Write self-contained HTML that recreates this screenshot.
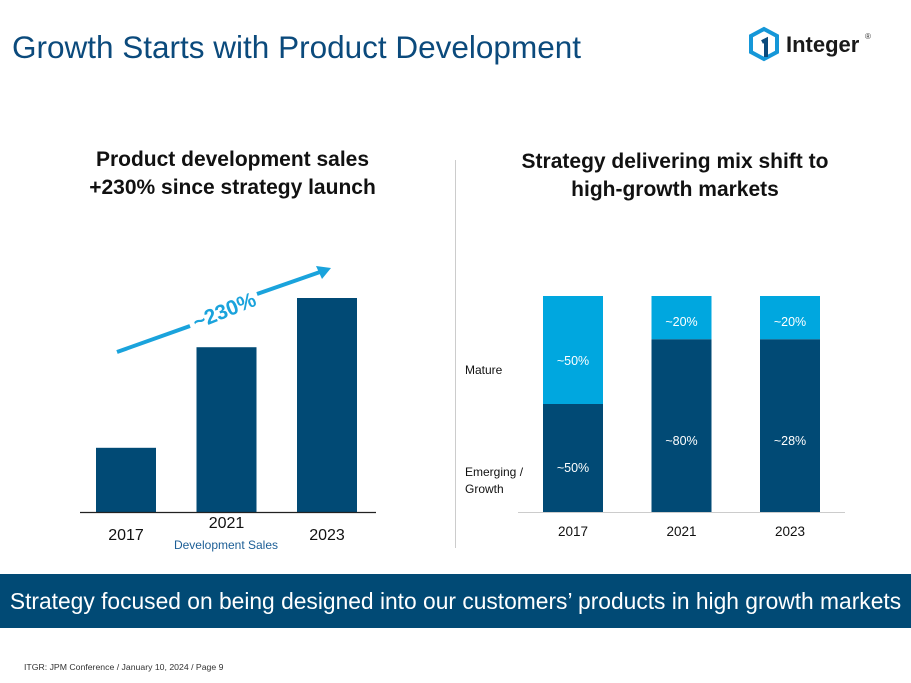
<!DOCTYPE html>
<html><head><meta charset="utf-8"><style>
body{margin:0;width:911px;height:683px;background:#fff;font-family:"Liberation Sans",sans-serif;position:relative;overflow:hidden}
.a{position:absolute}
</style></head><body>
<div class="a" style="left:12px;top:29px;font-size:31.5px;color:#0b4a7c;white-space:nowrap">Growth Starts with Product Development</div>
<div class="a" style="left:748px;top:26px;width:140px;height:38px;">
<svg width="40" height="38" viewBox="0 0 40 38" style="position:absolute;left:0;top:0"><polygon points="16,3 29,10 29,26 16,33 3,26 3,10" fill="none" stroke="#1597d8" stroke-width="4"/><path d="M14,16 L18,14 L18,31" fill="none" stroke="#0b4a7c" stroke-width="4"/></svg>
<span style="position:absolute;left:38px;top:6px;font-size:22px;font-weight:bold;color:#1a1a1a;">Integer</span><span style="position:absolute;left:117px;top:6px;font-size:8px;color:#333">®</span></div>
<div class="a" style="left:60px;top:146px;width:345px;text-align:center;font-size:21px;font-weight:bold;line-height:28px;color:#111;">Product development sales<br>+230% since strategy launch</div>
<div class="a" style="left:490px;top:148px;width:370px;text-align:center;font-size:21px;font-weight:bold;line-height:28px;color:#111;">Strategy delivering mix shift to<br>high-growth markets</div>
<div class="a" style="left:455px;top:160px;width:1px;height:388px;background:#ccc"></div>
<svg id="chart" class="a" style="left:0;top:0" width="911" height="683"></svg>
<div class="a" style="left:0;top:574px;width:911px;height:54px;background:#014a75;color:#fff;font-size:22.8px;line-height:54px;text-align:center;white-space:nowrap">Strategy focused on being designed into our customers’ products in high growth markets</div>
<div class="a" style="left:24px;top:662px;font-size:8.7px;color:#333;">ITGR: JPM Conference / January 10, 2024 / Page 9</div>
<script>
const leftYears=["2017","2021","2023"];
const devSales=[30,77,100];
const rightYears=["2017","2021","2023"];
const emerging=[50,80,80];
const mature=[50,20,20];
const emergingLabels=["~50%","~80%","~28%"];
const matureLabels=["~50%","~20%","~20%"];
const NS="http://www.w3.org/2000/svg";
const svg=document.getElementById('chart');
function mk(t,a,txt){const e=document.createElementNS(NS,t);for(const k in a)e.setAttribute(k,a[k]);if(txt!==undefined)e.textContent=txt;svg.appendChild(e);return e;}
const base=512,lx0=96,lstep=100.5,bw=60;
const ly=v=>base-v*2.14;
devSales.forEach((v,i)=>{const b=mk('rect',{x:lx0+i*lstep,y:ly(v),width:bw,height:base-ly(v),fill:'#014a75'});

});
mk('line',{x1:80,y1:512.5,x2:376,y2:512.5,stroke:'#222','stroke-width':1.2});
leftYears.forEach((y,i)=>{const t=mk('text',{x:lx0+i*lstep+bw/2,y:i==1?528:540,'text-anchor':'middle','font-size':16,fill:'#111'},y);

});
mk('text',{x:226,y:549,'text-anchor':'middle','font-size':12,fill:'#1c5e96'},'Development Sales');
mk('line',{x1:117,y1:352,x2:190,y2:326,stroke:'#1aa3dc','stroke-width':4});
mk('line',{x1:257,y1:294,x2:320,y2:272,stroke:'#1aa3dc','stroke-width':4});
mk('polygon',{points:'331,268 316,266 322,279',fill:'#1aa3dc'});
mk('text',{x:224,y:318,'text-anchor':'middle','font-size':21,'font-weight':'bold',fill:'#1aa3dc',transform:'rotate(-22 224 310)'},'~230%');
const rx0=543,rstep=108.5;
const ry=v=>v*2.16;
rightYears.forEach((y,i)=>{const x=rx0+i*rstep;const he=ry(emerging[i]),hm=ry(mature[i]);
const e=mk('rect',{x:x,y:base-he,width:bw,height:he,fill:'#014a75'});


const m=mk('rect',{x:x,y:base-he-hm,width:bw,height:hm,fill:'#00a7df'});


mk('text',{x:x+bw/2,y:i==0?472:445,'text-anchor':'middle','font-size':12.5,fill:'#fff'},emergingLabels[i]);
mk('text',{x:x+bw/2,y:i==0?365:326,'text-anchor':'middle','font-size':12.5,fill:'#fff'},matureLabels[i]);
const t=mk('text',{x:x+bw/2,y:536,'text-anchor':'middle','font-size':13.5,fill:'#111'},y);

});
mk('line',{x1:518,y1:512.5,x2:845,y2:512.5,stroke:'#ccc','stroke-width':1});
mk('text',{x:465,y:374,'font-size':12,fill:'#111'},'Mature');
mk('text',{x:465,y:476,'font-size':12,fill:'#111'},'Emerging /');
mk('text',{x:465,y:493,'font-size':12,fill:'#111'},'Growth');
</script>
</body></html>
